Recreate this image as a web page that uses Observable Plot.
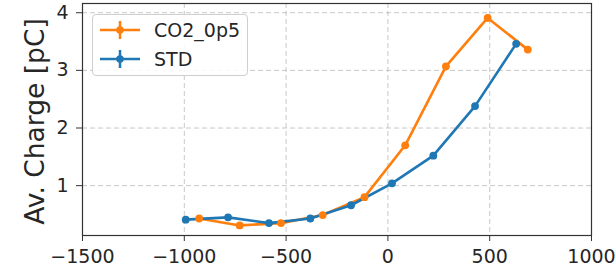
<!DOCTYPE html>
<html>
<head>
<meta charset="utf-8">
<script src="https://cdn.jsdelivr.net/npm/d3@7"></script>
<script src="https://cdn.jsdelivr.net/npm/@observablehq/plot@0.6"></script>
<style>
  body { margin: 0; background: #fff; }
  #wrap { position: relative; width: 616px; height: 271px; font-family: "DejaVu Sans", sans-serif; }
  #legend {
    position: absolute; left: 92px; top: 14px; width: 156px; height: 62px;
    background: rgba(255,255,255,0.85); border: 1px solid #cfcfcf; border-radius: 4px;
    box-sizing: border-box; color: #262626; font-size: 19px;
  }
  .row { position: absolute; left: 6px; height: 24px; display: flex; align-items: center; }
  .row span { margin-left: 13px; }
</style>
</head>
<body>
<div id="wrap"></div>
<script>
const seriesNames = ["CO2_0p5", "STD"];
const seriesColors = ["#ff7f0e", "#1f77b4"];

const co2X = [-927, -728, -525, -320, -115, 85, 285, 490, 687];
const co2Y = [0.43, 0.31, 0.35, 0.49, 0.80, 1.70, 3.07, 3.91, 3.36];

const stdX = [-993, -785, -584, -381, -181, 20, 223, 428, 630];
const stdY = [0.41, 0.45, 0.35, 0.43, 0.66, 1.04, 1.52, 2.38, 3.46];

const xTicks = [-1500, -1000, -500, 0, 500, 1000];
const yTicks = [1, 2, 3, 4];
const yLabel = "Av. Charge [pC]";

const data = [
  ...co2X.map((x, i) => ({series: seriesNames[0], x, y: co2Y[i]})),
  ...stdX.map((x, i) => ({series: seriesNames[1], x, y: stdY[i]}))
];

const fmt = d => d < 0 ? "\u2212" + Math.abs(d) : String(d);

const chart = Plot.plot({
  width: 616, height: 271,
  marginLeft: 82, marginRight: 25, marginTop: 3, marginBottom: 36,
  style: {fontFamily: "DejaVu Sans, sans-serif", fontSize: "19px", color: "#262626", background: "#fff"},
  x: {domain: [-1500, 1000]},
  y: {domain: [0.135, 4.16]},
  color: {domain: seriesNames, range: seriesColors},
  marks: [
    Plot.gridX(xTicks, {stroke: "#b0b0b0", strokeOpacity: 0.7, strokeDasharray: "5,3", strokeWidth: 1}),
    Plot.gridY(yTicks, {stroke: "#b0b0b0", strokeOpacity: 0.7, strokeDasharray: "5,3", strokeWidth: 1}),
    Plot.line(data, {x: "x", y: "y", z: "series", stroke: "series", strokeWidth: 2.6}),
    Plot.dot(data, {x: "x", y: "y", fill: "series", r: 3.9}),
    Plot.frame({stroke: "#333", strokeWidth: 1.2}),
    Plot.axisX(xTicks, {tickSize: 6, tickPadding: 8, tickFormat: fmt, label: null, fontSize: 19, stroke: "#333"}),
    Plot.axisY(yTicks, {tickSize: 6, tickPadding: 8, tickFormat: d => String(d), label: null, fontSize: 19, stroke: "#333"}),
    Plot.text([yLabel], {frameAnchor: "left", dx: -47, dy: 2, rotate: -90, fontSize: 26.5, textAnchor: "middle", fill: "#262626"})
  ]
});

const wrap = document.getElementById("wrap");
wrap.appendChild(chart);

const legend = document.createElement("div");
legend.id = "legend";
seriesNames.forEach((name, i) => {
  const row = document.createElement("div");
  row.className = "row";
  row.style.top = (3 + i * 29) + "px";
  const c = seriesColors[i];
  row.innerHTML = `<svg width="42" height="20"><line x1="1" x2="41" y1="10" y2="10" stroke="${c}" stroke-width="2.5"/><line x1="21" x2="21" y1="1" y2="19" stroke="${c}" stroke-width="2.5"/><circle cx="21" cy="10" r="3.8" fill="${c}"/></svg><span>${name}</span>`;
  legend.appendChild(row);
});
wrap.appendChild(legend);
</script>
</body>
</html>
